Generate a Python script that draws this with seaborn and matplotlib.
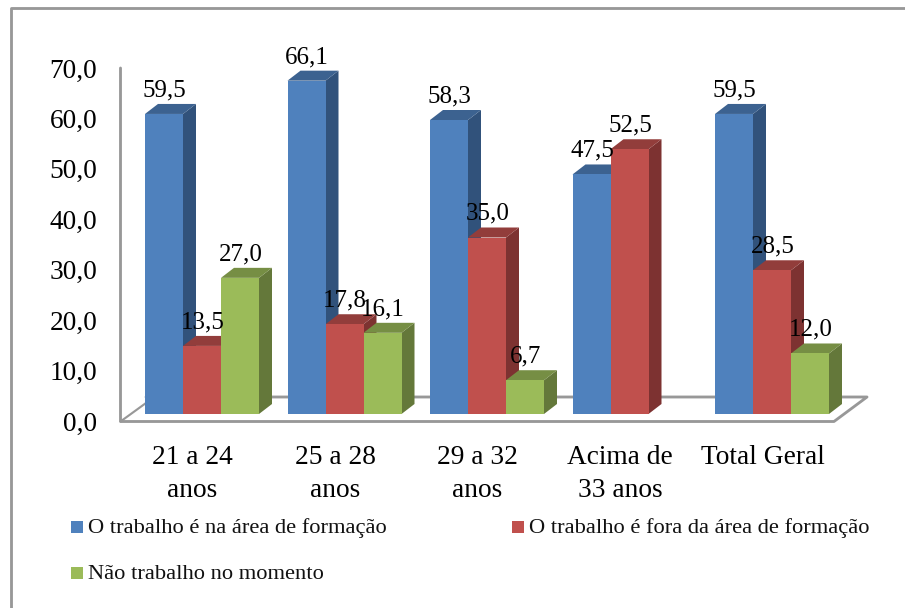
import numpy as np
import pandas as pd
import seaborn as sns
import matplotlib.pyplot as plt
from matplotlib.lines import Line2D
from matplotlib.patches import Polygon
from matplotlib.transforms import ScaledTranslation

categories = ["21 a 24\nanos", "25 a 28\nanos", "29 a 32\nanos", "Acima de\n33 anos", "Total Geral"]
series_names = ["O trabalho é na área de formação", "O trabalho é fora da área de formação", "Não trabalho no momento"]
na_area = [59.5, 66.1, 58.3, 47.5, 59.5]
fora_area = [13.5, 17.8, 35.0, 52.5, 28.5]
nao_trabalho = [27.0, 16.1, 6.7, np.nan, 12.0]
y_ticks = [0, 10, 20, 30, 40, 50, 60, 70]

front_colors = ["#4F81BD", "#C0504D", "#9BBB59"]
side_colors = ["#31527B", "#7D3231", "#64783A"]
top_colors = ["#3C6290", "#923D3B", "#768E44"]
frame_color = "#989898"
W, H = 905, 608

sns.set_theme(style="white")
plt.rcParams["font.family"] = ["Liberation Serif", "DejaVu Serif"]
AXIS_FS = 19.7
VALUE_FS = 18
LEGEND_FS = 16.2

df = pd.DataFrame({"cat": categories, series_names[0]: na_area, series_names[1]: fora_area, series_names[2]: nao_trabalho})
long_df = df.melt(id_vars="cat", var_name="serie", value_name="valor")

fig = plt.figure(figsize=(W / 100, H / 100), dpi=100)
# axes placed in pixels so that the front plane lands where the reference has it
left, right, base, top = 130.75, 843.25, 414, 61
ax = fig.add_axes([left / W, 1 - base / H, (right - left) / W, (base - top) / H])
ax.patch.set_visible(False)

sns.barplot(data=long_df, x="cat", y="valor", hue="serie", hue_order=series_names,
            palette=front_colors, saturation=1, width=0.8, gap=0, legend=False, ax=ax, zorder=20,
            edgecolor="none", linewidth=0)
ax.set_xlim(-0.5, 4.5)
ax.set_ylim(0, 70)
ax.set_xlabel("")
ax.set_ylabel("")
sns.despine(ax=ax, left=True, bottom=True)

# fake 3D depth
px_x = (right - left) / 5
px_y = (base - top) / 70
dx = 13 / px_x
dy = 10 / px_y
for s, cont in enumerate(ax.containers):
    for bar in cont:
        h = bar.get_height()
        if not np.isfinite(h) or h <= 0:
            continue
        x0 = bar.get_x()
        x1 = x0 + bar.get_width()
        z = 5 + x0 + s * 0.01
        ax.add_patch(Polygon([(x1, 0), (x1 + dx, dy), (x1 + dx, h + dy), (x1, h)], closed=True,
                             fc=side_colors[s], ec="none", clip_on=False, zorder=z))
        ax.add_patch(Polygon([(x0, h), (x0 + dx, h + dy), (x1 + dx, h + dy), (x1, h)], closed=True,
                             fc=top_colors[s], ec="none", clip_on=False, zorder=z))
        ax.annotate(f"{h:.1f}".replace(".", ","), (x0 + bar.get_width() / 2, h), xytext=(0.5, 17),
                    textcoords="offset points", ha="center", va="center", fontsize=VALUE_FS,
                    color="black", zorder=30, annotation_clip=False)

ax.set_yticks(y_ticks)
ax.set_yticklabels([f"{v:.1f}".replace(".", ",") for v in y_ticks], fontsize=AXIS_FS, color="black")
ax.tick_params(axis="y", length=0, pad=24)
ax.tick_params(axis="x", length=0, pad=22.5, labelsize=AXIS_FS, labelcolor="black")
y_shift = ScaledTranslation(0, -7 / 100, fig.dpi_scale_trans)
for lab in ax.get_yticklabels():
    lab.set_transform(lab.get_transform() + y_shift)
x_shift = ScaledTranslation(-9.5 / 100, 0, fig.dpi_scale_trans)
for lab in ax.get_xticklabels():
    lab.set_linespacing(1.41)
    lab.set_verticalalignment("top")
    lab.set_transform(lab.get_transform() + x_shift)


def fig_pts(pts):
    return [p[0] / W for p in pts], [1 - p[1] / H for p in pts]


# wall and floor outline, then the outer frame
outline = [
    ([(120.5, 68), (120.5, 421.5), (834, 421.5), (867, 397), (146, 397)], 2.4),
    ([(120.5, 421.5), (146, 403)], 1.8),
    ([(10.5, 620), (10.5, 7.5), (920, 7.5)], 2.4),
]
for pts, lw in outline:
    xs, ys = fig_pts(pts)
    fig.add_artist(Line2D(xs, ys, color=frame_color, lw=lw * 0.85, zorder=0))

# legend, laid out by hand like the original two rows
legend_items = [(71, 527, 0), (512, 527, 1), (71, 573, 2)]
for lx, ly, s in legend_items:
    fig.patches.append(plt.Rectangle((lx / W, 1 - (ly + 6) / H), 12 / W, 12 / H, transform=fig.transFigure,
                                     fc=front_colors[s], ec="none", figure=fig))
    fig.text((lx + 17) / W, 1 - (ly + 1.5) / H, series_names[s], fontsize=LEGEND_FS, color="#111111", va="center", ha="left")

fig.savefig("out.png", dpi=100)
